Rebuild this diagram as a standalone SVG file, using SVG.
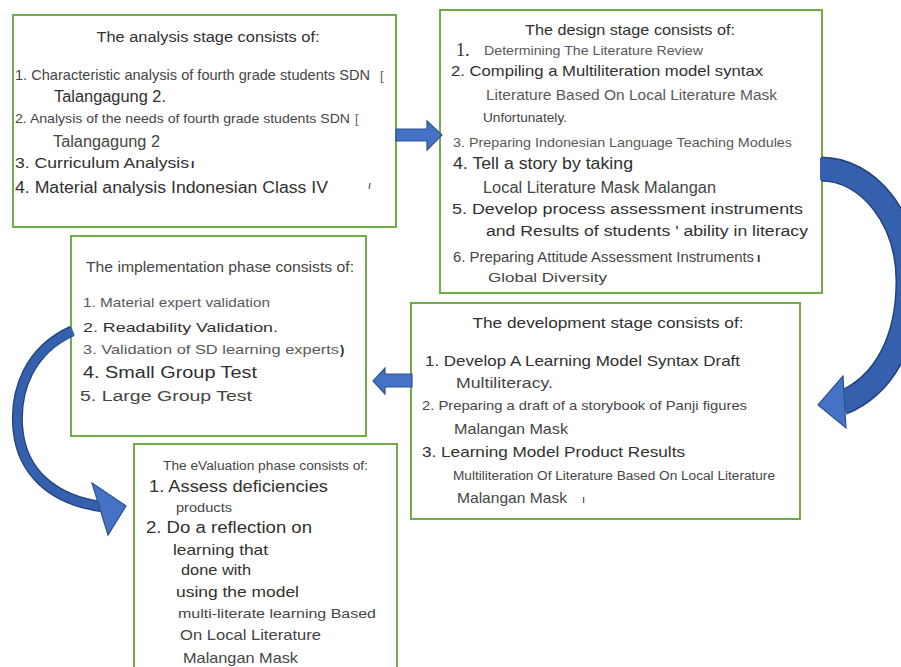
<svg xmlns="http://www.w3.org/2000/svg" width="901" height="667" viewBox="0 0 901 667">
<style>
.box{fill:#fff;stroke:#70AD47;stroke-width:2}
text{font-family:"Liberation Sans",Arial,sans-serif;fill:#303030}
.g{fill:#595959}
.m{fill:#454545}
.blk{fill:#4472C4;stroke:#2F528F;stroke-width:1.2}
.outl{fill:none;stroke:#23427C}
.body{fill:none;stroke:#3560AD}
</style>
<rect width="901" height="667" fill="#fff"/>
<g id="analysis">
<rect class="box" x="13" y="15" width="383" height="212"/>
<text x="208" y="42" font-size="14" text-anchor="middle" textLength="223" lengthAdjust="spacingAndGlyphs">The analysis stage consists of:</text>
<text class="m" x="15" y="80" font-size="15" textLength="355" lengthAdjust="spacingAndGlyphs">1. Characteristic analysis of fourth grade students SDN</text>
<text class="g" x="380" y="80" font-size="13">[</text>
<text x="54" y="102" font-size="16" textLength="112" lengthAdjust="spacingAndGlyphs">Talangagung 2.</text>
<text class="m" x="15" y="123" font-size="13" textLength="335" lengthAdjust="spacingAndGlyphs">2. Analysis of the needs of fourth grade students SDN</text>
<text class="g" x="355" y="123" font-size="12">[</text>
<text class="m" x="53" y="147" font-size="16" textLength="107" lengthAdjust="spacingAndGlyphs">Talangagung 2</text>
<text x="15" y="168" font-size="14.5" textLength="174" lengthAdjust="spacingAndGlyphs">3. Curriculum Analysis</text>
<text x="191" y="168" font-size="12" font-weight="bold">ı</text>
<text x="15" y="193" font-size="16" textLength="313" lengthAdjust="spacingAndGlyphs">4. Material analysis Indonesian Class IV</text>
<text x="368" y="189" font-size="11" font-style="italic">ı</text>
</g>
<g id="design">
<rect class="box" x="440" y="10" width="382" height="283"/>
<text x="630" y="35" font-size="15" text-anchor="middle" textLength="210" lengthAdjust="spacingAndGlyphs">The design stage consists of:</text>
<text x="456" y="56" font-size="18" style="font-family:'Liberation Serif','Times New Roman',serif">1.</text>
<text class="g" x="484" y="55" font-size="13" textLength="219" lengthAdjust="spacingAndGlyphs">Determining The Literature Review</text>
<text x="451" y="76" font-size="15" textLength="312" lengthAdjust="spacingAndGlyphs">2. Compiling a Multiliteration model syntax</text>
<text class="g" x="486" y="100" font-size="14" textLength="291" lengthAdjust="spacingAndGlyphs">Literature Based On Local Literature Mask</text>
<text class="m" x="483" y="122" font-size="12" textLength="84" lengthAdjust="spacingAndGlyphs">Unfortunately.</text>
<text class="g" x="453" y="147" font-size="13" textLength="339" lengthAdjust="spacingAndGlyphs">3. Preparing Indonesian Language Teaching Modules</text>
<text x="453" y="169" font-size="16" textLength="180" lengthAdjust="spacingAndGlyphs">4. Tell a story by taking</text>
<text class="m" x="483" y="193" font-size="16" textLength="233" lengthAdjust="spacingAndGlyphs">Local Literature Mask Malangan</text>
<text x="452" y="214" font-size="15.5" textLength="351" lengthAdjust="spacingAndGlyphs">5. Develop process assessment instruments</text>
<text x="486" y="236" font-size="15.5" textLength="322" lengthAdjust="spacingAndGlyphs">and Results of students ' ability in literacy</text>
<text class="m" x="453" y="262" font-size="14.5" textLength="301" lengthAdjust="spacingAndGlyphs">6. Preparing Attitude Assessment Instruments</text>
<text x="757" y="262" font-size="12" font-weight="bold">ı</text>
<text class="m" x="488" y="282" font-size="12" textLength="119" lengthAdjust="spacingAndGlyphs">Global Diversity</text>
</g>
<g id="implementation">
<rect class="box" x="71" y="236" width="295" height="200"/>
<text class="m" x="86" y="272" font-size="14" textLength="268" lengthAdjust="spacingAndGlyphs">The implementation phase consists of:</text>
<text class="g" x="83" y="307" font-size="13" textLength="187" lengthAdjust="spacingAndGlyphs">1. Material expert validation</text>
<text x="83" y="332" font-size="13.5" textLength="195" lengthAdjust="spacingAndGlyphs">2. Readability Validation.</text>
<text class="g" x="83" y="354" font-size="13" textLength="256" lengthAdjust="spacingAndGlyphs">3. Validation of SD learning experts</text>
<text x="340" y="354" font-size="13" font-weight="bold">)</text>
<text x="83" y="378" font-size="16" textLength="174" lengthAdjust="spacingAndGlyphs">4. Small Group Test</text>
<text class="m" x="80" y="401" font-size="15.5" textLength="172" lengthAdjust="spacingAndGlyphs">5. Large Group Test</text>
</g>
<g id="development">
<rect class="box" x="411" y="303" width="389" height="216"/>
<text x="608" y="328" font-size="15" text-anchor="middle" textLength="271" lengthAdjust="spacingAndGlyphs">The development stage consists of:</text>
<text x="425" y="366" font-size="15" textLength="315" lengthAdjust="spacingAndGlyphs">1. Develop A Learning Model Syntax Draft</text>
<text class="m" x="456" y="388" font-size="14" textLength="97" lengthAdjust="spacingAndGlyphs">Multiliteracy.</text>
<text class="m" x="422" y="410" font-size="13" textLength="325" lengthAdjust="spacingAndGlyphs">2. Preparing a draft of a storybook of Panji figures</text>
<text class="m" x="454" y="434" font-size="14.5" textLength="114" lengthAdjust="spacingAndGlyphs">Malangan Mask</text>
<text x="422" y="457" font-size="15" textLength="263" lengthAdjust="spacingAndGlyphs">3. Learning Model Product Results</text>
<text class="m" x="453" y="480" font-size="12.5" textLength="322" lengthAdjust="spacingAndGlyphs">Multiliteration Of Literature Based On Local Literature</text>
<text class="m" x="457" y="503" font-size="14.5" textLength="110" lengthAdjust="spacingAndGlyphs">Malangan Mask</text>
<text x="582" y="503" font-size="11">ı</text>
</g>
<g id="evaluation">
<rect class="box" x="134" y="444" width="263" height="240"/>
<text class="m" x="163" y="470" font-size="12.5" textLength="205" lengthAdjust="spacingAndGlyphs">The eValuation phase consists of:</text>
<text x="149" y="492" font-size="16" textLength="179" lengthAdjust="spacingAndGlyphs">1. Assess deficiencies</text>
<text class="m" x="176" y="512" font-size="12" textLength="56" lengthAdjust="spacingAndGlyphs">products</text>
<text x="146" y="533" font-size="16" textLength="166" lengthAdjust="spacingAndGlyphs">2. Do a reflection on</text>
<text x="173" y="555" font-size="15" textLength="95" lengthAdjust="spacingAndGlyphs">learning that</text>
<text x="181" y="575" font-size="14" textLength="70" lengthAdjust="spacingAndGlyphs">done with</text>
<text x="176" y="597" font-size="15" textLength="123" lengthAdjust="spacingAndGlyphs">using the model</text>
<text class="m" x="178" y="618" font-size="13.5" textLength="198" lengthAdjust="spacingAndGlyphs">multi-literate learning Based</text>
<text class="m" x="180" y="640" font-size="14.5" textLength="141" lengthAdjust="spacingAndGlyphs">On Local Literature</text>
<text class="m" x="183" y="663" font-size="15" textLength="115" lengthAdjust="spacingAndGlyphs">Malangan Mask</text>
</g>
<g id="connectors">
<polygon class="blk" points="396,129 427,129 427,121 442,135 427,150 427,141 396,141"/>
<path class="outl" stroke-width="25" d="M 821,169 C 868.6,169 908,219 908,281 C 908,340 885,385 842,403"/>
<path class="body" stroke-width="22" d="M 820,169 C 868.6,169 908,219 908,281 C 908,340 885,385 842,403"/>
<polygon class="blk" points="818,405 843,376 846,428"/>
<polygon class="blk" points="412,374 385,374 385,368 373,381 385,394 385,387 412,387"/>
<path class="outl" stroke-width="11" d="M 72,331 C 30,350 14,390 18,430 C 22,470 50,500 104,507"/>
<path class="body" stroke-width="8.5" d="M 73,331 C 30,350 14,390 18,430 C 22,470 50,500 104,507"/>
<polygon class="blk" points="92,483 126,506 108,535"/>
</g>
</svg>
